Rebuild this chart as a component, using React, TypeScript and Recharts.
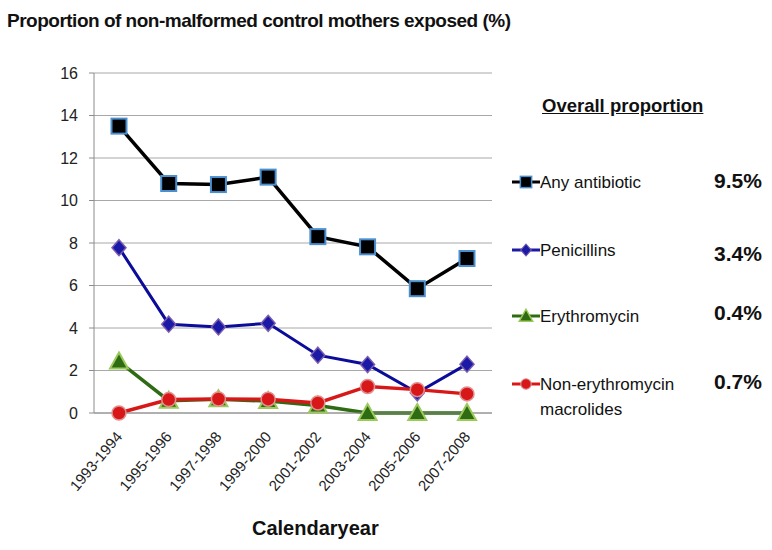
import { CartesianGrid, Line, LineChart, XAxis, YAxis } from "recharts";

const periods = [
  "1993-1994",
  "1995-1996",
  "1997-1998",
  "1999-2000",
  "2001-2002",
  "2003-2004",
  "2005-2006",
  "2007-2008",
];

const anyAntibiotic = [13.5, 10.8, 10.75, 11.1, 8.3, 7.82, 5.85, 7.27];
const penicillins = [7.78, 4.18, 4.05, 4.22, 2.72, 2.28, 0.95, 2.3];
const erythromycin = [2.42, 0.58, 0.65, 0.56, 0.35, 0, 0, 0];
const nonErythro = [0, 0.63, 0.66, 0.65, 0.47, 1.25, 1.1, 0.9];

const yTicks = [0, 2, 4, 6, 8, 10, 12, 14, 16];
// category boundaries for the small x tick marks
const boundaryTicks = [0, 1, 2, 3, 4, 5, 6, 7, 8];

const seriesNames = ["Any antibiotic", "Penicillins", "Erythromycin", "Non-erythromycin"];
const overall = ["9.5%", "3.4%", "0.4%", "0.7%"];

const data = periods.map((p, i) => ({
  period: p,
  any: anyAntibiotic[i],
  pen: penicillins[i],
  ery: erythromycin[i],
  non: nonErythro[i],
}));

const FONT = "'Liberation Sans', Arial, sans-serif";

const Square = (p: any) => (
  <rect key={p.index} x={p.cx - 7.5} y={p.cy - 7.5} width={15} height={15} fill="#000" stroke="#4a8fd0" strokeWidth={2} />
);
const Diamond = (p: any) => (
  <path
    key={p.index}
    d={`M${p.cx},${p.cy - 8} L${p.cx + 7},${p.cy} L${p.cx},${p.cy + 8} L${p.cx - 7},${p.cy} Z`}
    fill="#1a1aa6"
    stroke="#7a5cb0"
    strokeWidth={1.5}
  />
);
const Triangle = (p: any) => (
  <path
    key={p.index}
    d={`M${p.cx},${p.cy - 9} L${p.cx + 9},${p.cy + 7} L${p.cx - 9},${p.cy + 7} Z`}
    fill="#2e6b12"
    stroke="#9bc95a"
    strokeWidth={2}
  />
);
const Circle = (p: any) => (
  <circle key={p.index} cx={p.cx} cy={p.cy} r={7} fill="#d81818" stroke="#e09090" strokeWidth={1.5} />
);

const XTick = (props: any) => {
  const { x, y, payload } = props;
  const ax = x + 4;
  const ay = y + 16;
  return (
    <text
      x={ax}
      y={ay}
      transform={`rotate(-50 ${ax} ${ay})`}
      textAnchor="end"
      fontSize={15}
      fontFamily={FONT}
      fill="#222"
    >
      {payload.value}
    </text>
  );
};

// draws the short boundary mark just under the axis
const MarkTick = (props: any) => {
  const { x, y } = props;
  return <line x1={x} x2={x} y1={y - 8} y2={y - 2} stroke="#8c8c8c" strokeWidth={1} />;
};

const legendIcons = [
  { color: "#000", shape: Square },
  { color: "#1a1aa6", shape: Diamond },
  { color: "#2e6b12", shape: Triangle },
  { color: "#d81818", shape: Circle },
];

const itemTops = [182, 250, 316, 384];
const pctTops = [182, 255, 314, 383];

const LegendBox = () => (
  <div style={{ position: "absolute", left: 500, top: 80, width: 272, height: 360, fontFamily: FONT }}>
    <div
      style={{
        position: "absolute",
        left: 42,
        top: 106 - 80 - 11,
        fontSize: 18.5,
        fontWeight: "bold",
        textDecoration: "underline",
        color: "#111",
        whiteSpace: "nowrap",
      }}
    >
      Overall proportion
    </div>
    {seriesNames.map((name, i) => {
      const Icon = legendIcons[i].shape;
      return (
        <div key={name}>
          <svg
            style={{ position: "absolute", left: 12, top: itemTops[i] - 80 - 10 }}
            width={28}
            height={20}
          >
            <line x1={0} y1={10} x2={28} y2={10} stroke={legendIcons[i].color} strokeWidth={3} />
            <g transform="translate(14 10) scale(0.75) translate(-14 -10)">
              <Icon cx={14} cy={10} index={0} />
            </g>
          </svg>
          <div
            style={{
              position: "absolute",
              left: 40,
              top: itemTops[i] - 80 - 12,
              fontSize: 17,
              color: "#111",
              whiteSpace: "nowrap",
              lineHeight: "25px",
            }}
          >
            {name}
            {i === 3 ? (
              <>
                <br />
                macrolides
              </>
            ) : null}
          </div>
          <div
            style={{
              position: "absolute",
              left: 214,
              top: pctTops[i] - 80 - 13,
              fontSize: 21,
              fontWeight: "bold",
              color: "#111",
              whiteSpace: "nowrap",
            }}
          >
            {overall[i]}
          </div>
        </div>
      );
    })}
  </div>
);

export default function App(): JSX.Element {
  return (
    <div style={{ position: "absolute", left: 0, top: 0, width: 772, height: 550, background: "#fff" }}>
      <div
        style={{
          position: "absolute",
          left: 7,
          top: 10,
          fontFamily: FONT,
          fontSize: 19,
          letterSpacing: -0.5,
          fontWeight: "bold",
          color: "#111",
          whiteSpace: "nowrap",
        }}
      >
        Proportion of non-malformed control mothers exposed (%)
      </div>
      <div
        style={{
          position: "absolute",
          left: 252,
          top: 517,
          fontFamily: FONT,
          fontSize: 20,
          fontWeight: "bold",
          color: "#111",
          whiteSpace: "nowrap",
        }}
      >
        Calendaryear
      </div>
      <LineChart
        width={772}
        height={550}
        data={data}
        margin={{ top: 73, right: 280, left: 0, bottom: 0 }}
      >
        <CartesianGrid vertical={false} stroke="#a8a8a8" strokeWidth={1} />
        <XAxis
          xAxisId="marks"
          type="number"
          domain={[0, 8]}
          ticks={boundaryTicks}
          height={0}
          tick={<MarkTick />}
          tickSize={6}
          tickMargin={2}
          tickLine={false}
          axisLine={false}
          interval={0}
        />
        <XAxis
          dataKey="period"
          height={137}
          tick={<XTick />}
          tickLine={false}
          axisLine={{ stroke: "#8c8c8c" }}
          interval={0}
          padding={{ left: 25, right: 25 }}
        />
        <YAxis
          width={94}
          domain={[0, 16]}
          ticks={yTicks}
          tickSize={5}
          tickMargin={11}
          tickLine={{ stroke: "#8c8c8c" }}
          axisLine={{ stroke: "#8c8c8c" }}
          tick={{ fontSize: 16, fill: "#222", fontFamily: FONT }}
        />
        <Line dataKey="ery" stroke="#2e6b12" strokeWidth={3.5} dot={Triangle} isAnimationActive={false} />
        <Line dataKey="pen" stroke="#0c0c9a" strokeWidth={3} dot={Diamond} isAnimationActive={false} />
        <Line dataKey="non" stroke="#d81818" strokeWidth={3.5} dot={Circle} isAnimationActive={false} />
        <Line dataKey="any" stroke="#000" strokeWidth={3.5} dot={Square} isAnimationActive={false} />
      </LineChart>
      <LegendBox />
    </div>
  );
}
